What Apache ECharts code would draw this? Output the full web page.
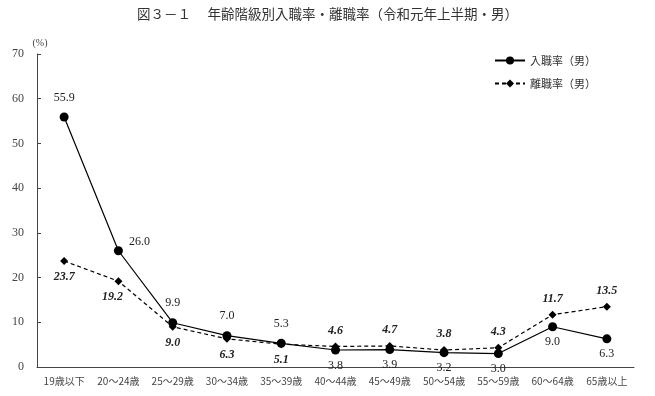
<!DOCTYPE html>
<html><head><meta charset="utf-8">
<script src="https://cdn.jsdelivr.net/npm/echarts@6/dist/echarts.min.js"></script>
<style>html,body{margin:0;padding:0;background:#fff}#c{width:655px;height:396px}</style>
</head><body><div id="c"></div>
<script>
const categories = ['19歳以下','20～24歳','25～29歳','30～34歳','35～39歳','40～44歳','45～49歳','50～54歳','55～59歳','60～64歳','65歳以上'];
const hireRate = [55.9, 26.0, 9.9, 7.0, 5.3, 3.8, 3.9, 3.2, 3.0, 9.0, 6.3];
const sepRate = [23.7, 19.2, 9.0, 6.3, 5.1, 4.6, 4.7, 3.8, 4.3, 11.7, 13.5];
const yTicks = [0, 10, 20, 30, 40, 50, 60, 70];

const numFont = "'Liberation Serif','DejaVu Serif',serif";
const jpFont = "'Noto Sans CJK JP',sans-serif";

function hireLabel(i){
  if (i === 1) return {position:'right', offset:[0,-9]};
  return i < 5 ? {position:'top', distance:9} : {position:'bottom', distance:5};
}
function sepLabel(i){
  if (i === 1) return {position:'bottom', offset:[-6,0]};
  return {position: i < 5 ? 'bottom' : 'top'};
}

const chart = echarts.init(document.getElementById('c'));
chart.setOption({
  animation:false,
  title:{text:'図３－１　 年齢階級別入職率・離職率（令和元年上半期・男）', left:'center', top:2,
    textStyle:{fontFamily:jpFont, fontSize:13.5, fontWeight:'normal', color:'#333'}},
  legend:{orient:'vertical', left:489, top:50, itemGap:12, itemWidth:30, itemHeight:10,
    textStyle:{fontFamily:jpFont, fontSize:11, color:'#333'},
    data:['入職率（男）','離職率（男）']},
  grid:{left:37, right:21, top:54, bottom:29},
  xAxis:{type:'category', data:categories, boundaryGap:true,
    axisLine:{lineStyle:{color:'#444', width:1}},
    axisTick:{inside:true, length:4, lineStyle:{color:'#444'}},
    axisLabel:{fontFamily:jpFont, fontSize:10, color:'#444', margin:9, interval:0}},
  yAxis:{type:'value', min:yTicks[0], max:yTicks[yTicks.length-1], interval:10,
    name:'(%)', nameLocation:'end', nameGap:6,
    nameTextStyle:{fontFamily:numFont, fontSize:10, color:'#444', align:'center', padding:[0,0,0,6]},
    axisLine:{show:true, lineStyle:{color:'#444', width:1}},
    axisTick:{show:true, inside:true, length:4, lineStyle:{color:'#444'}},
    axisLabel:{fontFamily:numFont, fontSize:12, color:'#444', margin:13},
    splitLine:{show:false}},
  series:[
    {name:'入職率（男）', type:'line', symbol:'circle', symbolSize:9,
     lineStyle:{color:'#000', width:1.2}, itemStyle:{color:'#000'},
     label:{show:true, distance:6, fontFamily:numFont, fontSize:12, color:'#222', formatter:p=>p.value.toFixed(1)},
     data:hireRate.map((v,i)=>({value:v, label:hireLabel(i)}))},
    {name:'離職率（男）', type:'line', symbol:'diamond', symbolSize:8,
     lineStyle:{color:'#000', width:1.2, type:[4,3]}, itemStyle:{color:'#000'},
     label:{show:true, distance:6, fontFamily:numFont, fontSize:12, fontStyle:'italic', fontWeight:'bold', color:'#222', formatter:p=>p.value.toFixed(1)},
     data:sepRate.map((v,i)=>({value:v, label:sepLabel(i)}))}
  ]
});
</script></body></html>
